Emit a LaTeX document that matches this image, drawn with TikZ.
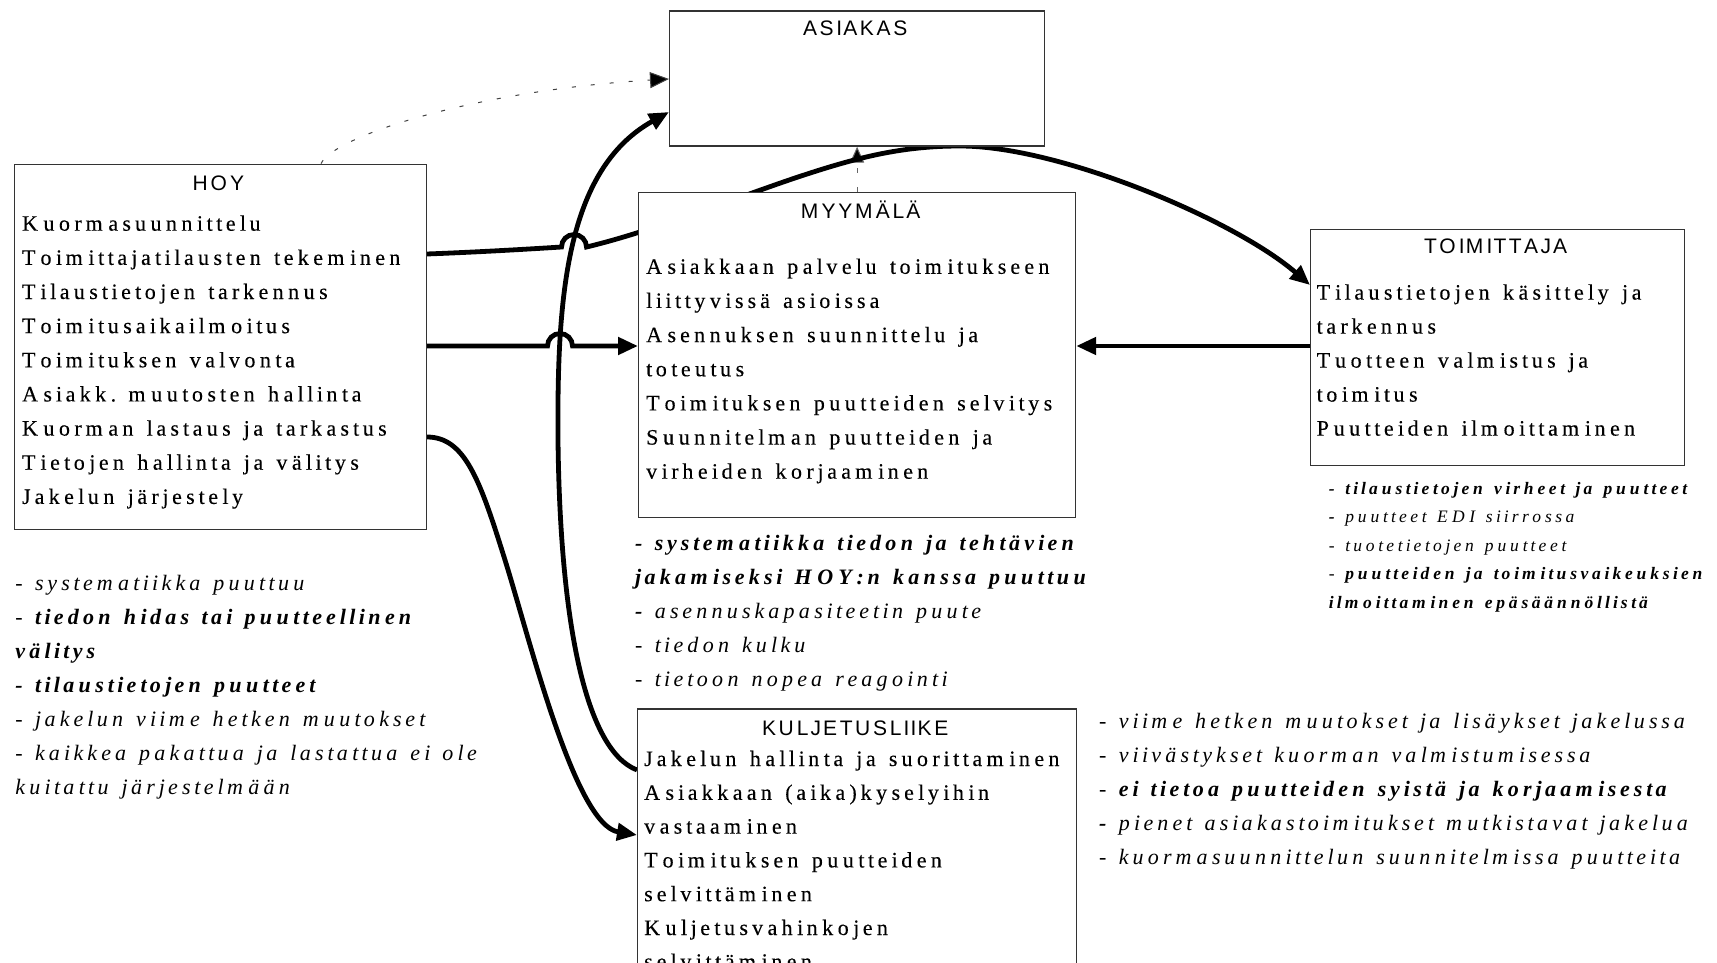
\documentclass[tikz,border=0pt]{standalone}
\usepackage{fontspec}
\setmainfont{Liberation Serif}
\newfontfamily\bodyfont{Liberation Serif}[UprightFeatures={FakeBold=0.2}]
\newfontfamily\titlefont{Liberation Sans}
\usetikzlibrary{arrows.meta,backgrounds}

% Each glyph gets an advance of \pfactor times its natural width, plus \ptrack
\newcommand{\pfactor}{1.2}
\newcommand{\ptrack}{2.3pt}
\let\pstop\relax
\newcommand{\pchar}[1]{\setbox0=\hbox{#1}\hbox to \dimexpr\pfactor\wd0+\ptrack\relax{\unhbox0\hss}}
\newcommand{\psp}{\hskip\dimexpr\pfactor\fontdimen2\font+\ptrack\relax}
\def\pwordloop#1{\ifx#1\pstop\else\pchar{#1}\expandafter\pwordloop\fi}
\def\pword#1{\pwordloop#1\pstop}
\def\plineloop#1 #2\pstop{\pword{#1}\ifx\relax#2\relax\else\psp\plineloop#2\pstop\fi}
\newcommand{\pline}[1]{\plineloop#1 \pstop}

% one line of a text block (plain, or mixed styles), and a block with a fixed line pitch
\newcommand{\txl}[1]{\hbox{\pline{#1}}}
\newcommand{\txm}[1]{\hbox{#1}}
\newcommand{\stk}[2]{\vtop{\baselineskip=#1\lineskiplimit=-1000pt\lineskip=0pt #2}}

\begin{document}
\begin{tikzpicture}[x=1pt,y=-1pt,
  boxnode/.style={draw=black!80, line width=1.2pt, fill=white, inner sep=0pt, anchor=north west},
  boxtitle/.style={font=\titlefont\fontsize{21}{25}\selectfont\def\pfactor{1.19}\def\ptrack{0pt}, anchor=base, inner sep=0pt},
  body/.style={font=\bodyfont\fontsize{22}{34}\selectfont, anchor=base west, inner sep=0pt},
  note/.style={font=\bodyfont\fontsize{22}{34}\selectfont\itshape\def\ptrack{2.1pt}, anchor=base west, inner sep=0pt},
  smallnote/.style={font=\bodyfont\fontsize{17.5}{28}\selectfont\itshape\def\ptrack{2.1pt}, anchor=base west, inner sep=0pt},
  flow/.style={line width=4.8pt, draw=black, -{Triangle[length=20pt,width=17pt]}},
  dotline/.style={line width=1pt, draw=black!75, dash pattern=on 4pt off 15pt, -{Triangle[length=19pt,width=16pt,fill=black]}},
  dashline/.style={line width=1pt, draw=black!60, dash pattern=on 5pt off 14pt, -{Triangle[length=16pt,width=14pt,fill=black]}}]

\useasboundingbox (0,0) rectangle (1717,963);

% the five parties
\node[boxnode, minimum width=375pt, minimum height=135pt] (asiakas) at (669,10.5) {};
\node[boxnode, minimum width=412pt, minimum height=365.4pt] (hoy) at (13.7,163.6) {};
\node[boxnode, minimum width=437pt, minimum height=324.6pt] (myymala) at (638,192) {};
\node[boxnode, minimum width=374pt, minimum height=236.5pt] (toimittaja) at (1310,228.5) {};
\node[boxnode, minimum width=439pt, minimum height=320pt] (kulj) at (637,708.4) {};

% titles
\node[boxtitle] (asiakas-title) at (856.5,35.7) {\pline{ASIAKAS}};
\node[boxtitle] (hoy-title) at (219.6,190) {\pline{HOY}};
\node[boxtitle] (myymala-title) at (862,218.5) {\pline{MYYMÄLÄ}};
\node[boxtitle] (toimittaja-title) at (1497,253) {\pline{TOIMITTAJA}};
\node[boxtitle] (kulj-title) at (856.5,735) {\pline{KULJETUSLIIKE}};

% tasks of each party
\node[body] (hoy-tasks) at (21.9,230.7) {\stk{34.15pt}{%
  \txl{Kuormasuunnittelu}%
  \txl{Toimittajatilausten tekeminen}%
  \txl{Tilaustietojen tarkennus}%
  \txl{Toimitusaikailmoitus}%
  \txl{Toimituksen valvonta}%
  \txl{Asiakk. muutosten hallinta}%
  \txl{Kuorman lastaus ja tarkastus}%
  \txl{Tietojen hallinta ja välitys}%
  \txl{Jakelun järjestely}}};

\node[body] (myymala-tasks) at (646,273.8) {\stk{34.15pt}{%
  \txl{Asiakkaan palvelu toimitukseen}%
  \txl{liittyvissä asioissa}%
  \txl{Asennuksen suunnittelu ja}%
  \txl{toteutus}%
  \txl{Toimituksen puutteiden selvitys}%
  \txl{Suunnitelman puutteiden ja}%
  \txl{virheiden korjaaminen}}};

\node[body] (toimittaja-tasks) at (1316.5,299.6) {\stk{34pt}{%
  \txl{Tilaustietojen käsittely ja}%
  \txl{tarkennus}%
  \txl{Tuotteen valmistus ja}%
  \txl{toimitus}%
  \txl{Puutteiden ilmoittaminen}}};

\node[body] (kulj-tasks) at (644,766) {\stk{33.8pt}{%
  \txl{Jakelun hallinta ja suorittaminen}%
  \txl{Asiakkaan (aika)kyselyihin}%
  \txl{vastaaminen}%
  \txl{Toimituksen puutteiden}%
  \txl{selvittäminen}%
  \txl{Kuljetusvahinkojen}%
  \txl{selvittäminen}}};

% problems noted for each party
\node[note] (hoy-notes) at (15.3,590) {\stk{34.1pt}{%
  \txl{- systematiikka puuttuu}%
  \txm{\pline{-}\psp\textbf{\pline{tiedon hidas tai puutteellinen}}}%
  \txm{\textbf{\pline{välitys}}}%
  \txm{\textbf{\pline{- tilaustietojen puutteet}}}%
  \txl{- jakelun viime hetken muutokset}%
  \txl{- kaikkea pakattua ja lastattua ei ole}%
  \txl{kuitattu järjestelmään}}};

\node[note] (myymala-notes) at (635,550) {\stk{34pt}{%
  \txm{\textbf{\pline{- systematiikka tiedon ja tehtävien}}}%
  \txm{\textbf{\pline{jakamiseksi HOY:n kanssa puuttuu}}}%
  \txm{\textbf{\pline{-}}\psp\pline{asennuskapasiteetin puute}}%
  \txl{- tiedon kulku}%
  \txl{- tietoon nopea reagointi}}};

\node[smallnote] (toimittaja-notes) at (1328.7,494.3) {\stk{28.5pt}{%
  \txm{\textbf{\pline{- tilaustietojen virheet ja puutteet}}}%
  \txm{\textbf{\pline{-}}\psp\pline{puutteet EDI siirrossa}}%
  \txl{- tuotetietojen puutteet}%
  \txm{\pline{-}\psp\textbf{\pline{puutteiden ja toimitusvaikeuksien}}}%
  \txm{\textbf{\pline{ilmoittaminen epäsäännöllistä}}}}};

\node[note] (kulj-notes) at (1099,728.5) {\stk{34pt}{%
  \txl{- viime hetken muutokset ja lisäykset jakelussa}%
  \txl{- viivästykset kuorman valmistumisessa}%
  \txm{\pline{-}\psp\textbf{\pline{ei tietoa puutteiden syistä ja korjaamisesta}}}%
  \txm{\textbf{\pline{-}}\psp\pline{pienet asiakastoimitukset mutkistavat jakelua}}%
  \txl{- kuormasuunnittelun suunnitelmissa puutteita}}};

% connectors run behind the boxes
\begin{scope}[on background layer]
  \fill[white] (0,0) rectangle (1717,963);

  % HOY -> ASIAKAS (dotted)
  \draw[dotline] (hoy.north -| 321,0) .. controls (335,135) and (480,90) .. (asiakas.west |- 0,79);

  % MYYMÄLÄ -> ASIAKAS (dashed)
  \draw[dashline] (myymala.north) -- (asiakas.south);

  % KULJETUSLIIKE -> ASIAKAS
  \draw[flow] (kulj.west |- 0,770) .. controls (585,750) and (560,620) .. (558,440)
    .. controls (557,300) and (565,170) .. (asiakas.west |- 0,112);

  % HOY -> KULJETUSLIIKE
  \draw[flow] (hoy.east |- 0,437) .. controls (465,437) and (480,480) .. (505,560)
    .. controls (530,640) and (575,825) .. (kulj.west |- 0,835);

  % HOY -> TOIMITTAJA, hopping over the KULJETUSLIIKE line
  \draw[flow] (hoy.east |- 0,254) .. controls (480,252) and (530,249) .. (561.5,247)
    arc[start angle=180, end angle=360, radius=12.5]
    .. controls (650,232) and (730,200) .. (795,178)
    .. controls (855,158) and (900,146) .. (960,146)
    .. controls (1060,146) and (1235,220) .. (toimittaja.west |- 0,285);

  % HOY -> MYYMÄLÄ, hopping over the KULJETUSLIIKE line
  \draw[flow] (hoy.east |- 0,346) -- (547.5,346)
    arc[start angle=180, end angle=360, radius=12.5] -- (myymala.west |- 0,346);

  % TOIMITTAJA -> MYYMÄLÄ
  \draw[flow] (toimittaja.west |- 0,346) -- (myymala.east |- 0,346);
\end{scope}
\end{tikzpicture}
\end{document}
